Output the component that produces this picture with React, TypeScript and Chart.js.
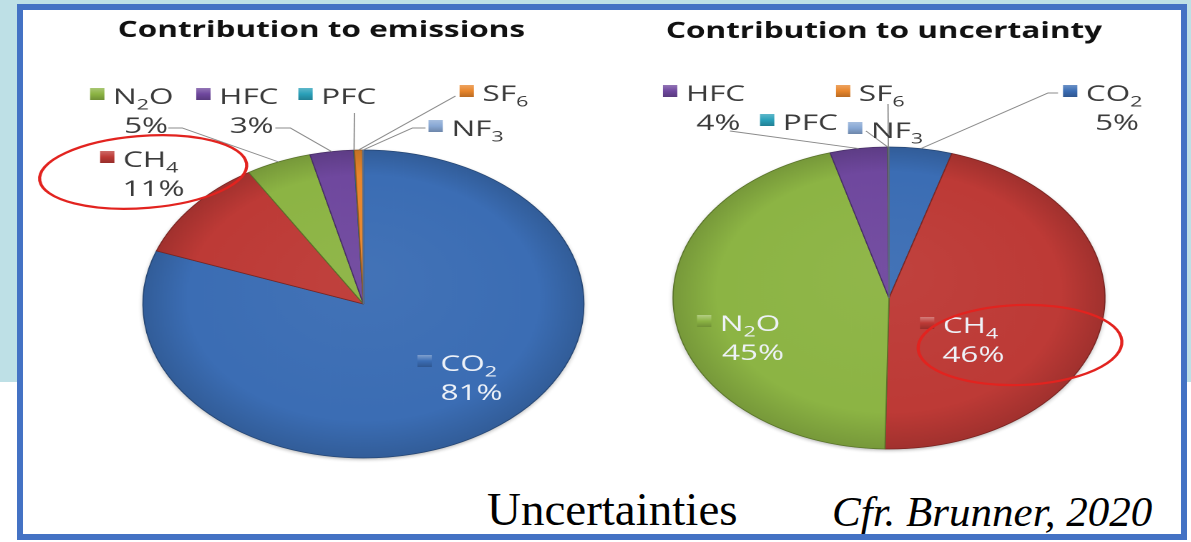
import React, { useEffect, useRef } from "react";
import { Chart, registerables } from "chart.js";

Chart.register(...registerables);

// ---------- data ----------
const gasNames = ["CO2", "CH4", "N2O", "HFC", "PFC", "SF6", "NF3"];
const emissionsShare = [80.6, 10.7, 4.8, 3.2, 0.05, 0.6, 0.05];
const uncertaintyShare = [4.7, 45.6, 45.3, 4.3, 0.03, 0.04, 0.03];
const chartTitles = ["Contribution to emissions", "Contribution to uncertainty"];
const footerText = "Uncertainties";
const sourceText = "Cfr. Brunner, 2020";

// ---------- styles ----------
const gasColors = ["#3b6db4", "#bd3a36", "#8cb444", "#6f489e", "#2aa0b9", "#e8862c", "#88a8d4"];
const SX = 1.43; // horizontal stretch of the original picture
const LABEL_FONT = '"Open Sans", "DejaVu Sans", sans-serif';
const LABEL_SIZE = 22;

type Pt = [number, number];
type LabelSpec = { sq: Pt; inside?: boolean; leader?: Pt[] } | null;
type Box = { left: number; top: number; w: number; h: number };

const leftSpecs: LabelSpec[] = [
  { sq: [417, 371], inside: true },
  { sq: [100, 167] },
  { sq: [90, 104], leader: [[168, 128], [182, 128]] },
  { sq: [196, 104], leader: [[275, 128], [290, 128]] },
  { sq: [298, 104], leader: [[354, 113]] },
  { sq: [459, 101], leader: [[455, 96]] },
  { sq: [428, 136], leader: [[425, 128], [412, 128]] },
];
const rightSpecs: LabelSpec[] = [
  { sq: [1063, 101], leader: [[1058, 93], [1048, 93]] },
  { sq: [920, 333], inside: true },
  { sq: [697, 331], inside: true },
  { sq: [663, 101], leader: [[730, 131]] },
  { sq: [760, 130], leader: [[866, 131]] },
  { sq: [836, 101], leader: [[888, 104]] },
  { sq: [848, 138] },
];

function hexToRgb(h: string) {
  const n = parseInt(h.slice(1), 16);
  return [(n >> 16) & 255, (n >> 8) & 255, n & 255];
}
function mix(h: string, target: number, t: number) {
  const c = hexToRgb(h).map((v) => Math.round(v + (target - v) * t));
  return `rgb(${c[0]},${c[1]},${c[2]})`;
}

function chemWidth(ctx: CanvasRenderingContext2D, text: string, size: number) {
  let w = 0;
  for (const ch of text) {
    const sub = /\d/.test(ch) && !text.includes("%");
    ctx.font = `${sub ? Math.round(size * 0.68) : size}px ${LABEL_FONT}`;
    w += ctx.measureText(ch).width;
  }
  return w;
}
function drawChem(ctx: CanvasRenderingContext2D, text: string, x: number, y: number, size: number) {
  let cx = x;
  for (const ch of text) {
    const sub = /\d/.test(ch) && !text.includes("%");
    ctx.font = `${sub ? Math.round(size * 0.68) : size}px ${LABEL_FONT}`;
    ctx.fillText(ch, cx, sub ? y + size * 0.24 : y);
    cx += ctx.measureText(ch).width;
  }
}

const decorPlugin = {
  id: "decor",
  beforeDatasetsDraw(chart: any, _a: any, o: any) {
    const { ctx, chartArea } = chart;
    const cx = (chartArea.left + chartArea.right) / 2;
    const cy = (chartArea.top + chartArea.bottom) / 2;
    ctx.save();
    ctx.beginPath();
    ctx.arc(cx, cy, o.radius, 0, Math.PI * 2);
    ctx.shadowColor = "rgba(0,0,0,0.3)";
    ctx.shadowBlur = 7;
    ctx.shadowOffsetY = 3;
    ctx.fillStyle = "#555";
    ctx.fill();
    ctx.restore();
  },
  afterDraw(chart: any, _a: any, o: any) {
    const { ctx } = chart;
    const box: Box = o.box;
    const ux = (x: number) => (x - box.left) / SX;
    const uy = (y: number) => y - box.top;
    ctx.save();
    // title
    ctx.fillStyle = "#111111";
    ctx.font = `bold 22px ${LABEL_FONT}`;
    ctx.textAlign = "center";
    ctx.textBaseline = "alphabetic";
    ctx.fillText(o.title, ux(o.titlePos[0]), uy(o.titlePos[1]));
    ctx.textAlign = "left";

    const meta = chart.getDatasetMeta(0);
    const values: number[] = chart.data.datasets[0].data;
    const specs: LabelSpec[] = o.specs;
    // leaders
    ctx.strokeStyle = "#8a8a8a";
    ctx.lineWidth = 0.9;
    specs.forEach((s, i) => {
      if (!s || !s.leader) return;
      const arc = meta.data[i];
      const mid = (arc.startAngle + arc.endAngle) / 2;
      const ex = arc.x + Math.cos(mid) * arc.outerRadius;
      const ey = arc.y + Math.sin(mid) * arc.outerRadius;
      ctx.beginPath();
      s.leader.forEach((p, k) => {
        if (k === 0) ctx.moveTo(ux(p[0]), uy(p[1]));
        else ctx.lineTo(ux(p[0]), uy(p[1]));
      });
      ctx.lineTo(ex, ey);
      ctx.stroke();
    });
    // labels
    const size = LABEL_SIZE;
    specs.forEach((s, i) => {
      if (!s) return;
      const col = gasColors[i];
      const x0 = ux(s.sq[0]);
      const base = uy(s.sq[1]);
      const sqW = 10, sqH = 12;
      const top = base - 16;
      const g = ctx.createLinearGradient(0, top, 0, top + sqH);
      g.addColorStop(0, mix(col, 255, s.inside ? 0.35 : 0.25));
      g.addColorStop(0.5, col);
      g.addColorStop(1, mix(col, 0, 0.2));
      ctx.fillStyle = g;
      ctx.fillRect(x0, top, sqW, sqH);
      const tx = x0 + sqW + 6;
      ctx.fillStyle = s.inside ? "#eef2f8" : "#3b3b3b";
      const name = gasNames[i];
      drawChem(ctx, name, tx, base, size);
      const w = chemWidth(ctx, name, size);
      if (values[i] >= 1) {
        const pct = `${Math.round(values[i])}%`;
        const pw = chemWidth(ctx, pct, size);
        drawChem(ctx, pct, tx + w / 2 - pw / 2 + 2, base + 29, size);
      }
    });
    // highlight ellipse
    const r = o.ring;
    ctx.strokeStyle = "#e2231f";
    ctx.lineWidth = 2.2;
    ctx.beginPath();
    ctx.ellipse(ux(r[0]), uy(r[1]), r[2] / SX, r[3], r[4], 0, Math.PI * 2);
    ctx.stroke();
    ctx.restore();
  },
};

function PieChart(props: {
  values: number[];
  title: string;
  titlePos: Pt;
  specs: LabelSpec[];
  box: Box;
  center: Pt;
  radius: number;
  ring: number[];
}) {
  const ref = useRef<HTMLCanvasElement>(null);
  const { box } = props;
  const W = box.w / SX;
  const H = box.h;
  useEffect(() => {
    const cxU = (props.center[0] - box.left) / SX;
    const cyU = props.center[1] - box.top;
    const padding = {
      left: Math.max(0, 2 * cxU - W),
      right: Math.max(0, W - 2 * cxU),
      top: Math.max(0, 2 * cyU - H),
      bottom: Math.max(0, H - 2 * cyU),
    };
    const radius = props.radius;
    const chart = new Chart(ref.current as HTMLCanvasElement, {
      type: "pie",
      data: {
        labels: gasNames,
        datasets: [
          {
            data: props.values,
            radius,
            backgroundColor: (c: any) => {
              const col = gasColors[c.dataIndex];
              const ca = c.chart.chartArea;
              if (!ca) return col;
              const x = (ca.left + ca.right) / 2;
              const y = (ca.top + ca.bottom) / 2;
              const g = c.chart.ctx.createRadialGradient(x, y - radius * 0.2, 0, x, y, radius);
              g.addColorStop(0, mix(col, 255, 0.04));
              g.addColorStop(0.8, col);
              g.addColorStop(1, mix(col, 0, 0.15));
              return g;
            },
            borderColor: gasColors.map((c) => mix(c, 0, 0.35)),
            borderWidth: 0.8,
          },
        ],
      },
      options: {
        animation: false,
        responsive: true,
        maintainAspectRatio: false,
        devicePixelRatio: 2,
        events: [],
        layout: { padding },
        plugins: {
          legend: { display: false },
          tooltip: { enabled: false },
          title: { display: false },
          decor: {
            title: props.title,
            titlePos: props.titlePos,
            specs: props.specs,
            box,
            radius,
            ring: props.ring,
          },
        } as any,
      },
      plugins: [decorPlugin],
    });
    return () => chart.destroy();
  }, []);
  return (
    <div
      style={{
        position: "absolute",
        left: box.left,
        top: box.top,
        width: W,
        height: H,
        transform: `scaleX(${SX})`,
        transformOrigin: "0 0",
      }}
    >
      <canvas ref={ref} />
    </div>
  );
}

export default function App() {
  return (
    <div
      style={{
        position: "absolute",
        left: 0,
        top: 0,
        width: 1191,
        height: 542,
        background: "#ffffff",
        overflow: "hidden",
      }}
    >
      <div style={{ position: "absolute", left: 0, top: 0, width: 1191, height: 382, background: "#bee0e6" }} />
      <div style={{ position: "absolute", left: 23, top: 10, width: 1158, height: 524, background: "#ffffff" }} />
      <PieChart
        values={emissionsShare}
        title={chartTitles[0]}
        titlePos={[321, 37]}
        specs={leftSpecs}
        box={{ left: 23, top: 10, w: 580, h: 460 }}
        center={[363, 304]}
        radius={154}
        ring={[143, 172, 104, 36, -0.12]}
      />
      <PieChart
        values={uncertaintyShare}
        title={chartTitles[1]}
        titlePos={[884, 38]}
        specs={rightSpecs}
        box={{ left: 603, top: 10, w: 578, h: 460 }}
        center={[889, 298]}
        radius={151}
        ring={[1020, 345, 102, 40, -0.06]}
      />
      <div
        style={{
          position: "absolute",
          left: 487,
          top: 486,
          fontFamily: '"Liberation Serif", "Times New Roman", serif',
          fontSize: 47,
          lineHeight: "47px",
          color: "#000",
          whiteSpace: "nowrap",
        }}
      >
        {footerText}
      </div>
      <div
        style={{
          position: "absolute",
          left: 832,
          top: 490,
          fontFamily: '"Liberation Serif", "Times New Roman", serif',
          fontStyle: "italic",
          fontSize: 43,
          lineHeight: "43px",
          color: "#000",
          whiteSpace: "nowrap",
        }}
      >
        {sourceText}
      </div>
      <div
        style={{
          position: "absolute",
          left: 17,
          top: 4,
          width: 1170,
          height: 536,
          boxSizing: "border-box",
          border: "6px solid #4472c4",
          pointerEvents: "none",
        }}
      />
    </div>
  );
}
